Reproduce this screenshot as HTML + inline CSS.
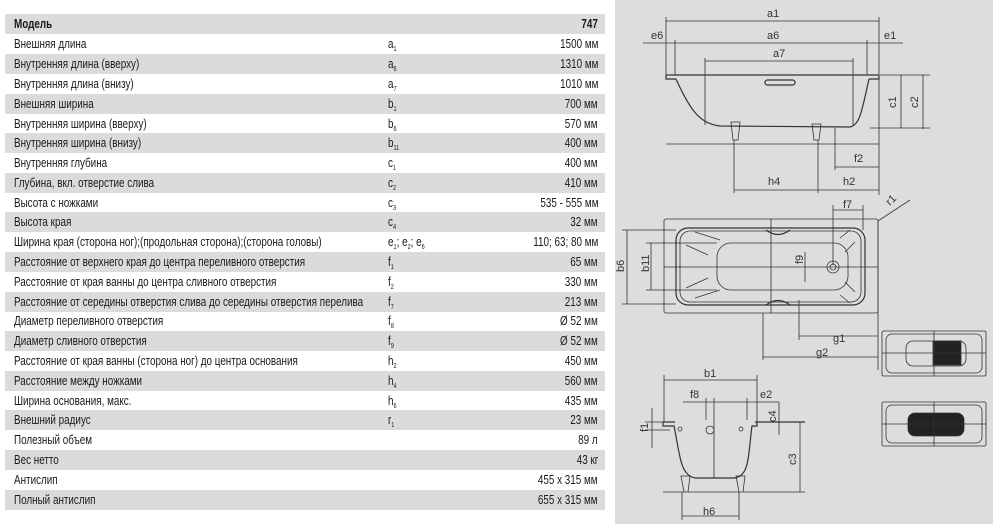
<!DOCTYPE html>
<html><head><meta charset="utf-8"><style>
body{margin:0;width:993px;height:524px;background:#fff;position:relative;overflow:hidden;font-family:"Liberation Sans",sans-serif;color:#1a1a1a}
.r{position:absolute;left:5px;width:600px;height:20px;font-size:12.5px;line-height:20px}
.g{background:#dadbdc}
.r span{position:absolute;white-space:nowrap;transform:scaleX(0.79)}
.a{left:9px;transform-origin:left center}
.b{left:383px;transform-origin:left center}
.c{right:7px;transform-origin:right center}
sub{font-size:7px;vertical-align:-3px}
#pan{position:absolute;left:615px;top:0;width:378px;height:524px;background:#dcdddf}
</style></head><body>
<div class="r g" style="top:14px;font-weight:bold"><span class="a">Модель</span><span class="c">747</span></div>
<div class="r" style="top:34px"><span class="a">Внешняя длина</span><span class="b">a<sub>1</sub></span><span class="c">1500 мм</span></div>
<div class="r g" style="top:54px"><span class="a">Внутренняя длина (вверху)</span><span class="b">a<sub>6</sub></span><span class="c">1310 мм</span></div>
<div class="r" style="top:74px"><span class="a">Внутренняя длина (внизу)</span><span class="b">a<sub>7</sub></span><span class="c">1010 мм</span></div>
<div class="r g" style="top:94px"><span class="a">Внешняя ширина</span><span class="b">b<sub>1</sub></span><span class="c">700 мм</span></div>
<div class="r" style="top:114px"><span class="a">Внутренняя ширина (вверху)</span><span class="b">b<sub>6</sub></span><span class="c">570 мм</span></div>
<div class="r g" style="top:133px"><span class="a">Внутренняя ширина (внизу)</span><span class="b">b<sub>11</sub></span><span class="c">400 мм</span></div>
<div class="r" style="top:153px"><span class="a">Внутренняя глубина</span><span class="b">c<sub>1</sub></span><span class="c">400 мм</span></div>
<div class="r g" style="top:173px"><span class="a">Глубина, вкл. отверстие слива</span><span class="b">c<sub>2</sub></span><span class="c">410 мм</span></div>
<div class="r" style="top:193px"><span class="a">Высота с ножками</span><span class="b">c<sub>3</sub></span><span class="c">535 - 555 мм</span></div>
<div class="r g" style="top:212px"><span class="a">Высота края</span><span class="b">c<sub>4</sub></span><span class="c">32 мм</span></div>
<div class="r" style="top:232px"><span class="a">Ширина края (сторона ног);(продольная сторона);(сторона головы)</span><span class="b">e<sub>1</sub>; e<sub>2</sub>; e<sub>6</sub></span><span class="c">110; 63; 80 мм</span></div>
<div class="r g" style="top:252px"><span class="a">Расстояние от верхнего края до центра переливного отверстия</span><span class="b">f<sub>1</sub></span><span class="c">65 мм</span></div>
<div class="r" style="top:272px"><span class="a">Расстояние от края ванны до центра сливного отверстия</span><span class="b">f<sub>2</sub></span><span class="c">330 мм</span></div>
<div class="r g" style="top:292px"><span class="a">Расстояние от середины отверстия слива до середины отверстия перелива</span><span class="b">f<sub>7</sub></span><span class="c">213 мм</span></div>
<div class="r" style="top:311px"><span class="a">Диаметр переливного отверстия</span><span class="b">f<sub>8</sub></span><span class="c">Ø 52 мм</span></div>
<div class="r g" style="top:331px"><span class="a">Диаметр сливного отверстия</span><span class="b">f<sub>9</sub></span><span class="c">Ø 52 мм</span></div>
<div class="r" style="top:351px"><span class="a">Расстояние от края ванны (сторона ног) до центра основания</span><span class="b">h<sub>2</sub></span><span class="c">450 мм</span></div>
<div class="r g" style="top:371px"><span class="a">Расстояние между ножками</span><span class="b">h<sub>4</sub></span><span class="c">560 мм</span></div>
<div class="r" style="top:391px"><span class="a">Ширина основания, макс.</span><span class="b">h<sub>6</sub></span><span class="c">435 мм</span></div>
<div class="r g" style="top:410px"><span class="a">Внешний радиус</span><span class="b">r<sub>1</sub></span><span class="c">23 мм</span></div>
<div class="r" style="top:430px"><span class="a">Полезный объем</span><span class="c">89 л</span></div>
<div class="r g" style="top:450px"><span class="a">Вес нетто</span><span class="c">43 кг</span></div>
<div class="r" style="top:470px"><span class="a">Антислип</span><span class="c">455 x 315 мм</span></div>
<div class="r g" style="top:490px"><span class="a">Полный антислип</span><span class="c">655 x 315 мм</span></div>
<div id="pan"></div>
<svg style="position:absolute;left:0;top:0" width="993" height="524" viewBox="0 0 993 524" font-family="Liberation Sans,sans-serif" font-size="11" fill="none" stroke="#333" stroke-width="0.8">
<g fill="#333" stroke="none">
<text x="767" y="17">a1</text><text x="651" y="39">e6</text><text x="767" y="39">a6</text><text x="884" y="39">e1</text><text x="773" y="57">a7</text>
<text x="854" y="162">f2</text><text x="768" y="185">h4</text><text x="843" y="185">h2</text>
<text x="843" y="208">f7</text><text x="833" y="342">g1</text><text x="816" y="356">g2</text>
<text x="704" y="377">b1</text><text x="690" y="398">f8</text><text x="760" y="398">e2</text><text x="703" y="515">h6</text>
<text transform="translate(896,108) rotate(-90)">c1</text><text transform="translate(918,108) rotate(-90)">c2</text>
<text transform="translate(624,272) rotate(-90)">b6</text><text transform="translate(649,272) rotate(-90)">b11</text>
<text transform="translate(803,264) rotate(-90)">f9</text><text transform="translate(776,422) rotate(-90)">c4</text>
<text transform="translate(648,432) rotate(-90)">f1</text><text transform="translate(796,465) rotate(-90)">c3</text>
<text transform="translate(890,206) rotate(-45)">r1</text>
</g>
<path d="M666 17V75M879 17V195M675 40V75M867 40V75M705 58V125M853 58V125M643 43H903M666 21H879M675 43H867M705 61H853"/>
<path d="M666 75H879M666 75V79H676M869 79H879V75" stroke-width="1.2"/>
<path d="M676 79C690 110 700 124 720 126L850 127C860 125 862 110 869 79" stroke-width="1.2"/>
<rect x="765" y="80" width="30" height="5" rx="2.5" stroke-width="1.2"/>
<path d="M731 122H740L738 140H733ZM812 124H821L819 140H814Z"/>
<path d="M666 144H879M734 140V193M818 140V193M835 128V170M835 167H879M734 190H879M880 75H930M870 128H930M901 75V128M923 75V129"/>
<rect x="664" y="219" width="214" height="94" rx="2"/>
<rect x="676" y="228" width="189" height="77" rx="12" stroke-width="1.2"/>
<rect x="680" y="231" width="181" height="71" rx="10"/>
<rect x="717" y="243" width="131" height="47" rx="14"/>
<circle cx="833" cy="267" r="6"/><circle cx="833" cy="267" r="3"/>
<path d="M664 267H878M771 219V313M627 230V304M651 243V290M622 230H676M646 243H717M646 290H717M622 304H676M833 205V265M863 205V230M833 210H863M878 221L910 200M878 221V370M799 300V340M799 336H878M763 313V360M763 357H878M805 252V282M803 267H833"/>
<path d="M766 230Q778 239 790 230M766 305Q778 296 790 305" stroke-width="1.2"/>
<path d="M695 232L720 240M686 245L708 255M695 298L720 290M686 288L708 278M840 238L850 230M845 252L855 242M840 295L850 303M845 282L855 292"/>
<rect x="882" y="331" width="104" height="45" rx="1.5"/><rect x="886" y="334" width="96" height="39" rx="6"/>
<rect x="906" y="341" width="60" height="25" rx="7"/><rect x="933" y="341" width="28" height="24" fill="#222"/>
<path d="M882 353H986M934 331V376"/>
<rect x="882" y="402" width="104" height="44" rx="1.5"/><rect x="886" y="405" width="96" height="38" rx="6"/>
<rect x="908" y="413" width="56" height="23" rx="7" fill="#222"/>
<path d="M882 424H986M934 402V446"/>
<path d="M664 375V422M757 375V422M664 380H757M683 402H779M714 398V478M706 398V420M747 398V420"/>
<path d="M663 422H675M755 422H805M663 422V426H674C680 455 680 475 695 478L735 478C750 475 748 455 752 426H757V422" stroke-width="1.2"/>
<circle cx="710" cy="430" r="4"/><circle cx="680" cy="429" r="2"/><circle cx="741" cy="429" r="2"/>
<path d="M663 492H805M800 422V492M779 402V435M652 408V448M645 422H675M645 430H670M681 476H690L688 492H684ZM736 476H745L743 492H739ZM682 492V520M739 492V520M682 516H739"/>
</svg>
</body></html>
